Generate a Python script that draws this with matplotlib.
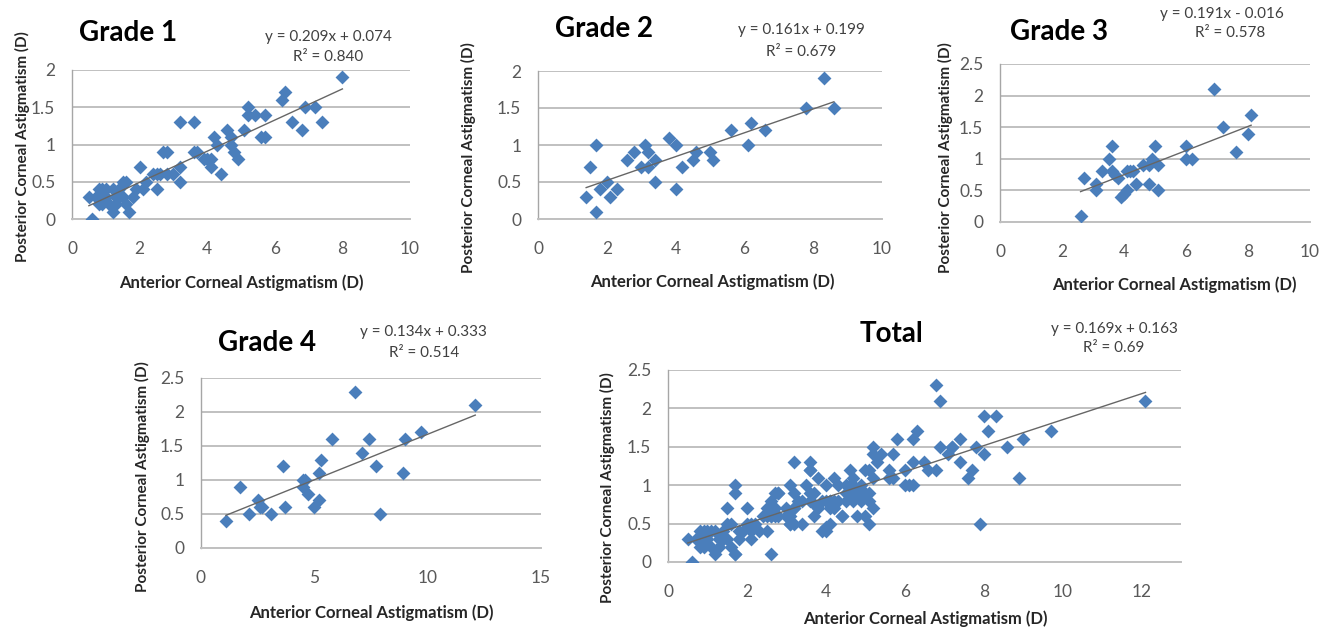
import numpy as np
import matplotlib
matplotlib.use('Agg')
from matplotlib import pyplot as plt

plt.rcParams['font.family'] = ['Lato', 'DejaVu Sans']

# ---- data ----
grade1_x = [0.6, 0.5, 0.7, 0.8, 0.8, 0.8, 0.9, 0.9, 1.0, 1.0, 1.1, 1.2, 1.2, 1.3, 1.3, 1.4, 1.4,
            1.5, 1.5, 1.6, 1.6, 1.7, 1.8, 1.9, 2.0, 2.1, 2.2, 2.4, 2.5, 2.5, 2.6, 2.7, 2.8, 2.8,
            3.0, 3.2, 3.2, 3.2, 3.6, 3.6, 3.7, 3.9, 4.0, 4.1, 4.1, 4.2, 4.3, 4.4, 4.6, 4.7, 4.7,
            4.8, 4.9, 5.1, 5.2, 5.2, 5.4, 5.6, 5.7, 5.7, 6.2, 6.3, 6.5, 6.8, 6.9, 7.2, 7.4, 8.0]
grade1_y = [0.0, 0.3, 0.3, 0.2, 0.4, 0.3, 0.4, 0.2, 0.3, 0.4, 0.2, 0.4, 0.1, 0.3, 0.2, 0.4, 0.3,
            0.5, 0.3, 0.5, 0.2, 0.1, 0.3, 0.4, 0.7, 0.4, 0.5, 0.6, 0.4, 0.6, 0.6, 0.9, 0.9, 0.6,
            0.6, 0.7, 0.5, 1.3, 1.3, 0.9, 0.9, 0.8, 0.8, 0.7, 0.8, 1.1, 1.0, 0.6, 1.2, 1.1, 1.0,
            0.9, 0.8, 1.2, 1.5, 1.4, 1.4, 1.1, 1.1, 1.4, 1.6, 1.7, 1.3, 1.2, 1.5, 1.5, 1.3, 1.9]

grade2_x = [1.4, 1.5, 1.7, 1.7, 1.8, 2.0, 2.1, 2.3, 2.6, 2.8, 3.0, 3.1, 3.2, 3.2, 3.4, 3.4,
            3.8, 4.0, 4.0, 4.2, 4.5, 4.6, 5.0, 5.1, 5.6, 6.1, 6.2, 6.6, 7.8, 8.3, 8.6]
grade2_y = [0.3, 0.7, 1.0, 0.1, 0.4, 0.5, 0.3, 0.4, 0.8, 0.9, 0.7, 1.0, 0.9, 0.7, 0.8, 0.5,
            1.1, 1.0, 0.4, 0.7, 0.8, 0.9, 0.9, 0.8, 1.2, 1.0, 1.3, 1.2, 1.5, 1.9, 1.5]

grade3_x = [2.6, 2.7, 3.1, 3.1, 3.3, 3.5, 3.6, 3.6, 3.7, 3.8, 3.9, 4.0, 4.1, 4.1, 4.2, 4.3,
            4.4, 4.6, 4.8, 4.8, 4.9, 5.0, 5.1, 5.1, 6.0, 6.0, 6.2, 6.9, 7.2, 7.6, 8.0, 8.1]
grade3_y = [0.1, 0.7, 0.6, 0.5, 0.8, 1.0, 1.2, 0.8, 0.75, 0.7, 0.4, 0.45, 0.5, 0.8, 0.8, 0.8,
            0.6, 0.9, 0.6, 0.9, 1.0, 1.2, 0.9, 0.5, 1.2, 1.0, 1.0, 2.1, 1.5, 1.1, 1.4, 1.7]

grade4_x = [1.1, 1.7, 2.1, 2.5, 2.6, 2.7, 3.1, 3.6, 3.7, 4.5, 4.6, 4.5, 4.7, 5.0, 5.2, 5.2,
            5.3, 5.8, 6.8, 7.1, 7.4, 7.7, 7.9, 8.9, 9.0, 9.7, 12.1]
grade4_y = [0.4, 0.9, 0.5, 0.7, 0.6, 0.6, 0.5, 1.2, 0.6, 1.0, 1.0, 0.9, 0.8, 0.6, 0.7, 1.1,
            1.3, 1.6, 2.3, 1.4, 1.6, 1.2, 0.5, 1.1, 1.6, 1.7, 2.1]

# the total panel shows every eye from the four grades
total_x = grade1_x + grade2_x + grade3_x + grade4_x
total_y = grade1_y + grade2_y + grade3_y + grade4_y

titles = ['Grade 1', 'Grade 2', 'Grade 3', 'Grade 4', 'Total']
slopes = [0.209, 0.161, 0.191, 0.134, 0.169]
intercepts = [0.074, 0.199, -0.016, 0.333, 0.163]
equations = ['y = 0.209x + 0.074', 'y = 0.161x + 0.199', 'y = 0.191x - 0.016',
             'y = 0.134x + 0.333', 'y = 0.169x + 0.163']
r2_labels = ['R² = 0.840', 'R² = 0.679', 'R² = 0.578', 'R² = 0.514', 'R² = 0.69']
xticks = [[0, 2, 4, 6, 8, 10], [0, 2, 4, 6, 8, 10], [0, 2, 4, 6, 8, 10], [0, 5, 10, 15],
          [0, 2, 4, 6, 8, 10, 12]]
yticks = [[0, 0.5, 1, 1.5, 2], [0, 0.5, 1, 1.5, 2], [0, 0.5, 1, 1.5, 2, 2.5],
          [0, 0.5, 1, 1.5, 2, 2.5], [0, 0.5, 1, 1.5, 2, 2.5]]
xmax = [10, 10, 10, 15, 13]

xs = [grade1_x, grade2_x, grade3_x, grade4_x, total_x]
ys = [grade1_y, grade2_y, grade3_y, grade4_y, total_y]

# ---- layout (pixels in a 1329x628 canvas) ----
W, H = 1329, 628
# plot area: left, right, top, bottom
boxes = [(72, 410, 70, 219), (538, 882, 71, 219), (1000, 1310, 64, 222),
         (201, 541, 378, 548), (668, 1181, 370, 562)]
title_pos = [(128, 33), (604, 29), (1059, 32), (267, 343), (892, 334)]
eq_pos = [(328, 37), (801, 30), (1222, 14), (423, 332), (1114, 329)]
r2_pos = [(328, 57), (801, 52), (1230, 33), (424, 353), (1114, 348)]
xlab_pos = [(241, 283), (712, 282), (1174, 285), (371, 613), (925, 619)]
ylab_pos = [(22, 147), (468, 158), (945, 158), (142, 477), (607, 488)]

BLUE = '#4a7ebb'
GRID = '#c0c0c0'


def px(x, y):
    return x / W, 1 - y / H


fig = plt.figure(figsize=(W / 100, H / 100), dpi=100)

for i in range(5):
    l, r, t, b = boxes[i]
    ax = fig.add_axes([l / W, 1 - b / H, (r - l) / W, (b - t) / H])
    ax.scatter(xs[i], ys[i], marker='D', s=50, color=BLUE, linewidths=0, zorder=3)
    xfit = np.array([min(xs[i]), max(xs[i])])
    ax.plot(xfit, slopes[i] * xfit + intercepts[i], color='#666666', lw=1.0, zorder=4)

    ax.set_xlim(0, xmax[i])
    ax.set_ylim(0, yticks[i][-1])
    ax.set_xticks(xticks[i])
    ax.set_yticks(yticks[i])
    ax.set_yticklabels([('%g' % v) for v in yticks[i]])
    ax.tick_params(length=0, labelsize=12.5, colors='#595959')
    ax.tick_params(axis='x', pad=16)
    ax.tick_params(axis='y', pad=12)
    ax.grid(axis='y', color=GRID, lw=1.4)
    ax.set_axisbelow(True)
    for s in ['top', 'right']:
        ax.spines[s].set_visible(False)
    ax.spines['bottom'].set_color(GRID)
    ax.spines['bottom'].set_linewidth(1.4)
    ax.spines['left'].set_color('#a6a6a6')
    ax.spines['left'].set_linewidth(1.0)

    fig.text(*px(*title_pos[i]), titles[i], fontsize=20, fontweight='bold',
             color='black', ha='center', va='center')
    fig.text(*px(*eq_pos[i]), equations[i], fontsize=11, color='#404040',
             ha='center', va='center')
    fig.text(*px(*r2_pos[i]), r2_labels[i], fontsize=11, color='#404040',
             ha='center', va='center')
    fig.text(*px(*xlab_pos[i]), 'Anterior Corneal Astigmatism (D)', fontsize=12,
             fontweight='bold', color='#262626', ha='center', va='center')
    fig.text(*px(*ylab_pos[i]), 'Posterior Corneal Astigmatism (D)', fontsize=11,
             fontweight='bold', color='#262626', ha='center', va='center', rotation=90)

fig.savefig('out.png', dpi=100, facecolor='white')
